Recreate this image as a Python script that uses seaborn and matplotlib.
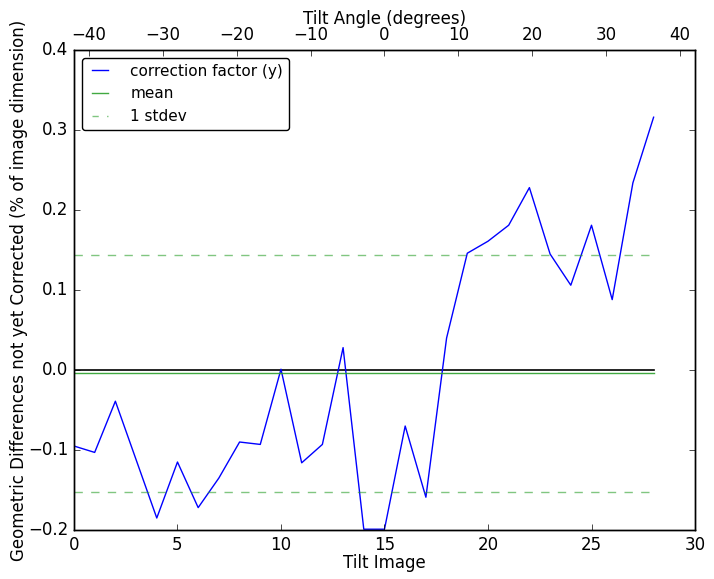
import numpy as np
import pandas as pd
import matplotlib
matplotlib.use("Agg")
import matplotlib.pyplot as plt
from matplotlib.lines import Line2D
import seaborn as sns

tilt_image = list(range(29))
correction_y = [-0.095, -0.103, -0.039, -0.112, -0.185, -0.115, -0.172, -0.135,
                -0.090, -0.093, 0.001, -0.116, -0.093, 0.028, -0.199, -0.199,
                -0.070, -0.159, 0.040, 0.146, 0.161, 0.181, 0.228, 0.145,
                0.106, 0.181, 0.088, 0.234, 0.316]
angle_range = [-42, 42]

plt.style.use("classic")
plt.rcParams["font.family"] = ["DejaVu Sans"]

df = pd.DataFrame({"Tilt Image": tilt_image, "y": correction_y})
mean_v = float(np.mean(correction_y))
std_v = float(np.std(correction_y))
df["mean"] = mean_v
df["up"] = mean_v + std_v
df["lo"] = mean_v - std_v
df["zero"] = 0.0

fig = plt.figure(figsize=(7.14, 5.79), dpi=100)
fig.patch.set_facecolor("white")
ax = fig.add_axes([0.1036, 0.0846, 0.8698, 0.829])

sns.lineplot(data=df, x="Tilt Image", y="zero", ax=ax, color="black", linewidth=1.2, legend=False)
sns.lineplot(data=df, x="Tilt Image", y="y", ax=ax, color="blue", linewidth=1.0, label="correction factor (y)")
sns.lineplot(data=df, x="Tilt Image", y="mean", ax=ax, color="#2ca02c", linewidth=1.0, alpha=0.9, label="mean")
sns.lineplot(data=df, x="Tilt Image", y="up", ax=ax, color="#2ca02c", linewidth=1.0, alpha=0.6,
             linestyle="--", dashes=(6, 6), label="1 stdev")
sns.lineplot(data=df, x="Tilt Image", y="lo", ax=ax, color="#2ca02c", linewidth=1.0, alpha=0.6,
             linestyle="--", dashes=(6, 6))

ax.set_xlim(0, 30)
ax.set_ylim(-0.2, 0.4)
ax.set_xticks([0, 5, 10, 15, 20, 25, 30])
ax.set_yticks([-0.2, -0.1, 0.0, 0.1, 0.2, 0.3, 0.4])
ax.set_xlabel("Tilt Image", fontsize=12, labelpad=0)
ax.set_ylabel("Geometric Differences not yet Corrected (% of image dimension)", fontsize=12, labelpad=0)
ax.tick_params(axis="x", top=False, direction="in", labelsize=12)
ax.tick_params(axis="y", right=True, direction="in", labelsize=12)

handles, labels = ax.get_legend_handles_labels()
new_handles = []
for h, l in zip(handles, labels):
    if l == "1 stdev":
        h = Line2D([], [], color="#2ca02c", alpha=0.6, linewidth=1.0, linestyle=(0, (4.5, 6)))
    new_handles.append(h)
ax.legend(new_handles, labels, loc="upper left", fontsize=11, fancybox=True,
          handlelength=1.6, handletextpad=1.2)

ax2 = ax.twiny()
ax2.set_xlim(angle_range[0], angle_range[1])
ax2.set_xticks([-40, -30, -20, -10, 0, 10, 20, 30, 40])
ax2.set_xlabel("Tilt Angle (degrees)", fontsize=12, labelpad=2)
ax2.tick_params(axis="x", direction="in", labelsize=12, bottom=False)

fig.savefig("out.png", dpi=100, facecolor="white")
